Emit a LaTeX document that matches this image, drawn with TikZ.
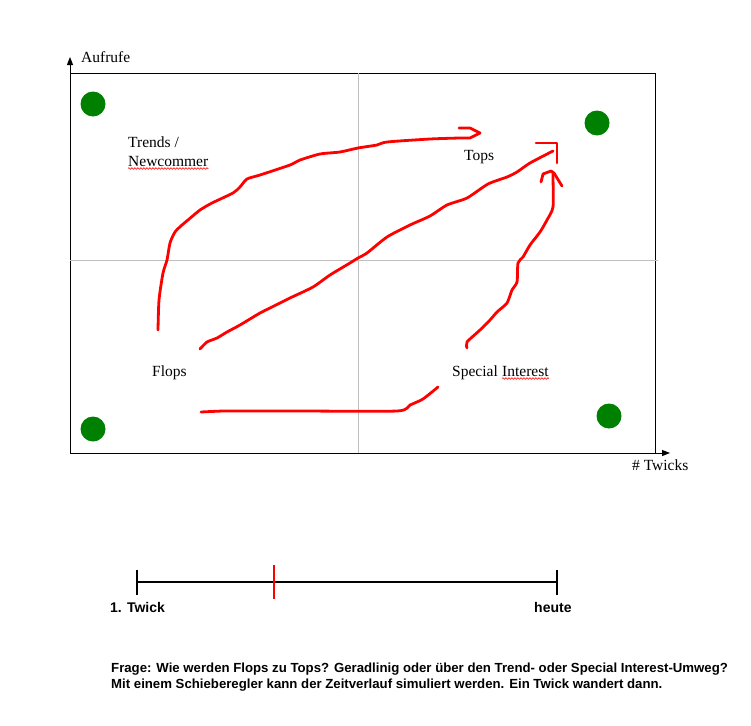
\documentclass[tikz,border=0pt]{standalone}
\usepackage{fontspec}
\setmainfont{Liberation Serif}
\newfontfamily\arialfont{Liberation Sans}
\usetikzlibrary{arrows.meta,decorations.pathmorphing}

\tikzset{
  lbl/.style={font=\fontsize{15.5}{18}\selectfont, inner sep=0pt, anchor=base west},
  dot/.style={circle, fill=green!50!black, minimum size=25pt, inner sep=0pt},
  stroke/.style={red, line width=2.8pt, line join=round, line cap=round},
  spell/.style={red, line width=0.6pt, decorate,
    decoration={snake, amplitude=0.8pt, segment length=3pt}},
  sans/.style={font=\arialfont\bfseries\fontsize{13.2}{15}\selectfont, inner sep=0pt, anchor=base west},
  axis/.style={line width=1pt, -{Triangle[length=8pt,width=6pt]}}
}

\begin{document}
\begin{tikzpicture}[x=1pt,y=-1pt]

\useasboundingbox (0,0) rectangle (751,725);

% --- Axes and frame ---
\coordinate (origin) at (70,453);
\draw[axis] (origin) -- (70,57);
\draw[axis] (origin) -- (670,453);
\draw[line width=1pt] (70,73) rectangle (655,453);
\draw[gray!50, line width=1pt] (358,73) -- (358,453);
\draw[gray!50, line width=1pt] (70,260) -- (658,260);

\node[lbl] (aufrufe) at (81,63) {Aufrufe};
\node[lbl] (twicks) at (632,470) {\# Twicks};

% --- Green dots ---
\foreach \n/\x/\y in {tl/93/104, tr/597/123, bl/93/429, br/609/416} {
    \node[dot] (dot-\n) at (\x,\y) {};
}

% --- Quadrant labels ---
\node[lbl] (trends) at (128,147) {Trends /};
\node[lbl] (newcommer) at (128,166) {Newcommer};
\node[lbl] (tops) at (464,160) {Tops};
\node[lbl] (flops) at (152,376) {Flops};
\node[lbl] (special) at (452,376) {Special};
\node[lbl] (interest) at (502,376) {Interest};
\draw[spell] ([yshift=-2.5pt]newcommer.base west) -- ([yshift=-2.5pt]newcommer.base east);
\draw[spell] ([yshift=-2.5pt]interest.base west) -- ([yshift=-2.5pt]interest.base east);

% --- Red paths ---
% over the trends
\draw[stroke] plot[smooth, tension=0.4] coordinates {
    (158,330) (159,300) (163,273) (167,260) (170,243) (175,232) (182,225)
    (188,220) (200,210) (212,203) (233,193) (240,187) (247,179) (260,175)
    (290,165) (300,160) (320,154) (340,152) (358,148) (377,145) (387,142)
    (430,139) (460,138) (470,138)}
    -- (480,133) -- (470,128) -- (459,128);
% straight line
\draw[stroke] plot[smooth, tension=0.4] coordinates {
    (200,349) (207,342) (217,338) (227,332) (240,325) (260,313) (270,308)
    (290,298) (313,287) (330,275) (350,263) (358,258) (367,253) (387,237)
    (410,225) (430,216) (447,205) (467,198) (488,184) (507,177) (517,172)
    (530,163) (553,151)};
\draw[stroke] (536,143) -- (557,143) -- (557,163);
% over special interest
\draw[stroke] plot[smooth, tension=0.4] coordinates {
    (201,412) (223,411) (243,411) (300,411) (397,411) (410,405) (423,399)
    (438,387)};
\draw[stroke] plot[smooth, tension=0.4] coordinates {
    (467,348) (467,342) (480,330) (490,320) (497,312) (507,303) (512,290)
    (517,282) (518,263) (523,257) (530,245) (540,232) (547,220) (553,207)
    (553,177) (553,173)};
\draw[stroke] (541,182) -- (543,174) -- (551,171) -- (554,173) -- (562,186);

% --- Time slider ---
\coordinate (start) at (137,582);
\coordinate (today) at (557,582);
\draw[line width=2pt] (start) -- (today);
\draw[line width=2pt] (137,570) -- (137,595);
\draw[line width=2pt] (557,570) -- (557,595);
\draw[red, line width=2pt] (274,565) -- (274,599);
\node[sans, font=\arialfont\bfseries\fontsize{14}{16}\selectfont] (first) at (110,612) {1. Twick};
\node[sans, font=\arialfont\bfseries\fontsize{14}{16}\selectfont] (heute) at (534,612) {heute};

% --- Question ---
\node[sans] (frage) at (111,672) {Frage: Wie werden Flops zu Tops? Geradlinig oder über den Trend- oder Special Interest-Umweg?};
\node[sans] (schieber) at (111,688) {Mit einem Schieberegler kann der Zeitverlauf simuliert werden. Ein Twick wandert dann.};

\end{tikzpicture}
\end{document}
